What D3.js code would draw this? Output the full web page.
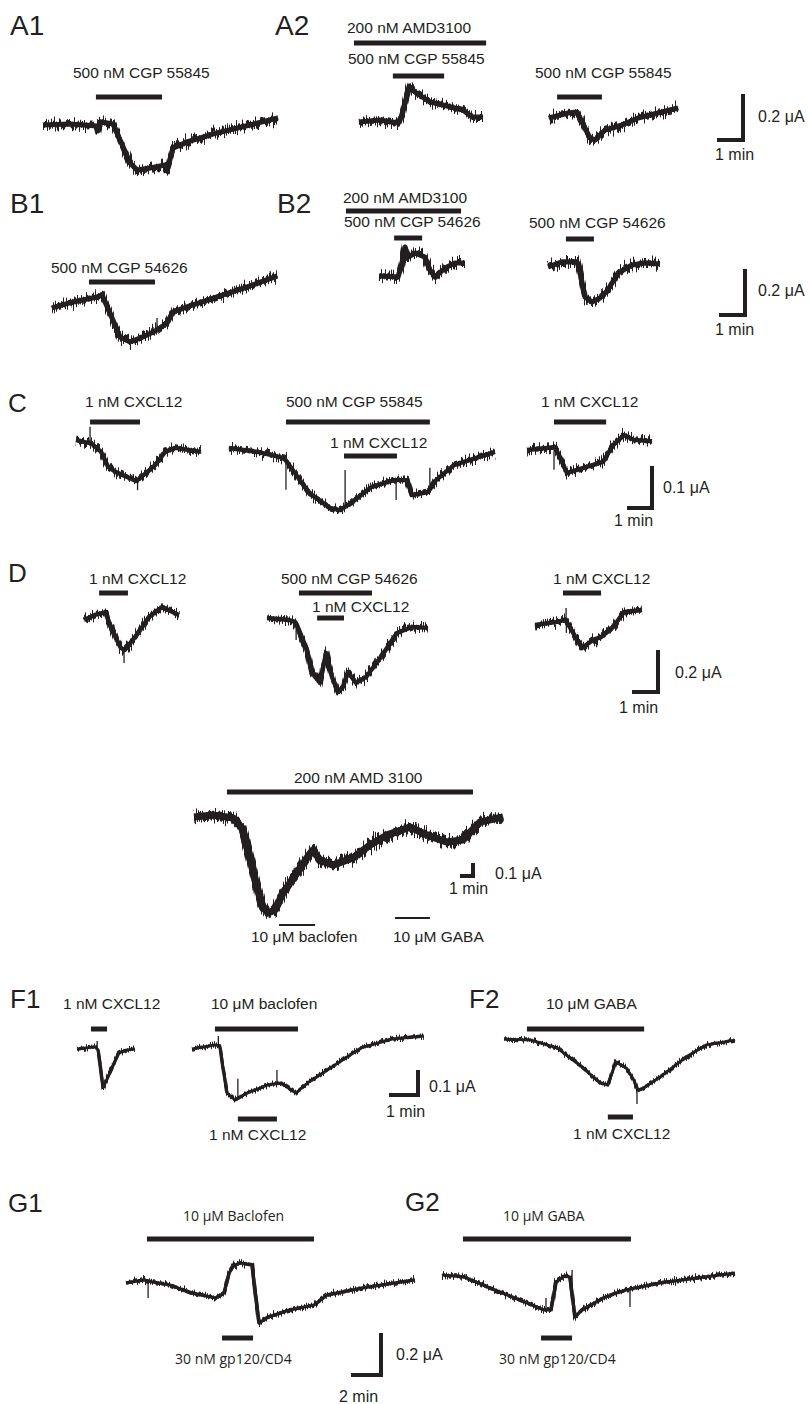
<!DOCTYPE html>
<html><head><meta charset="utf-8">
<script src="https://cdn.jsdelivr.net/npm/d3@7"></script>
<style>
html,body{margin:0;padding:0;background:#fff;}
svg{display:block;}
</style></head><body>
<svg id="fig" width="810" height="1404"></svg>
<script>
// ================= DATA (time in min, current in µA relative to trace start) =================
const A1_trace = [[0,0],[0.96,0.004],[1.93,-0.004],[1.96,-0.025],[2.04,0.013],[2.5,0.004],[3.11,-0.158],[3.36,-0.188],[3.82,-0.179],[4.36,-0.167],[4.43,-0.19],[4.64,-0.096],[5.14,-0.071],[6.21,-0.033],[7.39,0],[8.39,0.029]];
const A1_bars = [[1.89,4.25]];
const A1_labels = ["500 nM CGP 55845"];

const A2a_trace = [[0,0],[0.75,0.008],[1.39,-0.004],[1.54,0.029],[1.79,0.15],[2.0,0.125],[2.54,0.083],[3.14,0.067],[3.71,0.05],[4.04,0.021],[4.43,0.021]];
const A2a_bars = [[-0.18,4.54],[1.21,3.04]];
const A2a_labels = ["200 nM AMD3100","500 nM CGP 55845"];

const A2b_trace = [[0,0],[0.68,0.021],[1.0,0.025],[1.46,-0.083],[1.64,-0.092],[2.0,-0.05],[2.61,-0.029],[3.18,0],[3.89,0.021],[4.61,0.042]];
const A2b_bars = [[0.29,1.89]];
const A2b_labels = ["500 nM CGP 55845"];

const B1_trace = [[0,-0.008],[0.75,0.017],[1.61,0.038],[1.79,0.046],[2.07,-0.029],[2.43,-0.129],[2.79,-0.15],[3.25,-0.129],[3.75,-0.1],[4.11,-0.071],[4.32,-0.025],[4.82,-0.004],[5.89,0.038],[6.96,0.079],[8.04,0.125]];
const B1_spikes = [[3.75,-0.05]];
const B1_bars = [[1.32,3.68]];
const B1_labels = ["500 nM CGP 54626"];

const B2a_trace = [[0,0],[0.68,-0.004],[0.82,0.054],[0.93,0.121],[1.04,0.079],[1.29,0.096],[1.64,0.079],[1.82,0.025],[2.0,-0.004],[2.36,0.033],[2.71,0.054],[3.07,0.054]];
const B2a_bars = [[-1.18,2.93],[0.54,1.54]];
const B2a_labels = ["200 nM AMD3100","500 nM CGP 54626"];

const B2b_trace = [[0,-0.004],[0.5,0.017],[1.04,0.017],[1.14,-0.025],[1.32,-0.129],[1.57,-0.15],[1.86,-0.133],[2.14,-0.1],[2.5,-0.029],[3.0,0.004],[3.46,0.013],[4.0,0.008]];
const B2b_bars = [[0.64,1.64]];
const B2b_labels = ["500 nM CGP 54626"];

const C1_trace = [[0,0],[0.33,-0.005],[0.56,-0.007],[0.93,-0.027],[1.19,-0.061],[1.48,-0.073],[2.15,-0.091],[2.22,-0.093],[2.33,-0.089],[2.93,-0.057],[3.3,-0.027],[3.67,-0.018],[4.63,-0.027]];
const C1_spikes = [[0.52,0.03],[2.28,-0.114]];
const C1_bars = [[0.52,2.37]];
const C1_labels = ["1 nM CXCL12"];

const C2_trace = [[0,0],[1.07,-0.009],[2.04,-0.023],[2.15,-0.032],[2.96,-0.102],[3.74,-0.136],[4.11,-0.141],[4.52,-0.125],[5.26,-0.089],[6.11,-0.073],[6.59,-0.073],[6.78,-0.107],[7.37,-0.1],[7.67,-0.073],[8.33,-0.039],[9.85,-0.009]];
const C2_spikes = [[2.11,-0.095],[4.3,-0.05],[6.19,-0.118],[7.44,-0.045]];
const C2_bars = [[2.11,7.44],[4.26,6.22]];
const C2_labels = ["500 nM CGP 55845","1 nM CXCL12"];

const C3_trace = [[0,0],[0.81,0.005],[1.04,0.007],[1.48,-0.052],[1.85,-0.045],[2.81,-0.027],[3.19,0.011],[3.59,0.034],[3.96,0.023],[4.63,0.02]];
const C3_spikes = [[1.0,-0.045]];
const C3_bars = [[1.0,2.93]];
const C3_labels = ["1 nM CXCL12"];

const D1_trace = [[0,-0.009],[0.39,0.014],[0.79,0.027],[0.86,-0.009],[1.14,-0.091],[1.32,-0.136],[1.46,-0.145],[1.96,-0.064],[2.32,0.005],[2.79,0.05],[3.39,0.014]];
const D1_spikes = [[1.43,-0.205]];
const D1_bars = [[0.54,1.57]];
const D1_labels = ["1 nM CXCL12"];

const D2_trace = [[0,0],[0.79,-0.009],[1.0,-0.018],[1.07,-0.032],[1.43,-0.145],[1.61,-0.25],[1.89,-0.295],[2.11,-0.159],[2.32,-0.268],[2.54,-0.336],[2.71,-0.314],[2.89,-0.245],[3.18,-0.295],[3.54,-0.268],[4.07,-0.177],[4.64,-0.068],[5.18,-0.041],[5.75,-0.045]];
const D2_spikes = [[1.04,-0.1]];
const D2_bars = [[1.14,3.75],[1.79,2.75]];
const D2_labels = ["500 nM CGP 54626","1 nM CXCL12"];

const D3_trace = [[0,-0.009],[0.79,0.005],[1.07,0.014],[1.18,-0.005],[1.68,-0.114],[2.07,-0.077],[2.36,-0.064],[2.79,-0.018],[3.18,0.05],[3.82,0.059]];
const D3_spikes = [[1.11,0.068],[1.12,-0.045],[2.2,-0.11]];
const D3_bars = [[1.0,2.36]];
const D3_labels = ["1 nM CXCL12"];

const E_trace = [[0,0],[1.27,0.013],[2.6,-0.007],[3.2,-0.073],[3.6,-0.22],[4.07,-0.42],[4.53,-0.587],[4.93,-0.64],[5.4,-0.62],[5.93,-0.507],[6.87,-0.373],[7.53,-0.273],[7.93,-0.22],[8.4,-0.287],[9.27,-0.32],[10.6,-0.273],[11.73,-0.187],[12.87,-0.12],[14.4,-0.067],[15.53,-0.12],[16.87,-0.167],[17.93,-0.153],[19.07,-0.033],[20.6,0]];
const E_bars = [[2.2,18.6],[5.67,8.07],[13.4,15.73]];
const E_labels = ["200 nM AMD 3100","10 μM baclofen","10 μM GABA"];

const F1a_trace = [[0,0],[0.52,0.007],[0.61,0.007],[0.68,-0.004],[0.74,-0.052],[0.84,-0.144],[1.1,-0.078],[1.35,-0.015],[1.58,-0.004],[1.87,0]];
const F1a_spikes = [[0.65,0.03]];
const F1a_bars = [[0.45,0.97]];
const F1a_labels = ["1 nM CXCL12"];

const F1b_trace = [[0,0],[0.74,0.015],[0.9,0.011],[1.0,-0.067],[1.13,-0.163],[1.39,-0.189],[1.77,-0.163],[2.45,-0.133],[2.87,-0.126],[3.35,-0.163],[3.77,-0.122],[4.61,-0.059],[5.45,0.004],[6.45,0.037],[7.48,0.048]];
const F1b_spikes = [[0.85,0.048],[1.48,-0.11],[2.74,-0.078]];
const F1b_bars = [[0.74,3.42],[1.48,2.74]];
const F1b_labels = ["10 μM baclofen","1 nM CXCL12"];

const F2_trace = [[0,0],[0.87,-0.004],[1.71,-0.033],[2.52,-0.104],[3.1,-0.163],[3.35,-0.17],[3.61,-0.085],[3.94,-0.107],[4.19,-0.152],[4.32,-0.19],[4.45,-0.185],[5.03,-0.141],[5.87,-0.067],[6.52,-0.022],[7.45,-0.004]];
const F2_spikes = [[4.29,-0.241]];
const F2_bars = [[0.74,4.52],[3.35,4.16]];
const F2_labels = ["10 μM GABA","1 nM CXCL12"];

const G1_trace = [[0,0],[1.13,0.014],[1.63,0.005],[2.75,-0.009],[4.06,-0.045],[5.63,-0.068],[6.13,-0.045],[6.44,0.045],[6.75,0.08],[7.13,0.091],[7.88,0.082],[8.06,-0.032],[8.31,-0.182],[8.88,-0.155],[10.19,-0.123],[11.75,-0.1],[12.56,-0.055],[14.69,-0.023],[18.06,0.014]];
const G1_spikes = [[1.38,-0.068]];
const G1_bars = [[1.31,11.75],[6.0,7.94]];
const G1_labels = ["10 μM Baclofen","30 nM gp120/CD4"];

const G2_trace = [[0,0],[1.38,-0.009],[3.0,-0.059],[4.56,-0.105],[6.38,-0.159],[6.81,-0.159],[7.13,-0.032],[7.63,-0.005],[8.0,-0.009],[8.31,-0.191],[8.75,-0.159],[10.06,-0.105],[11.06,-0.077],[11.5,-0.068],[13.63,-0.036],[15.88,-0.014],[18.31,0.009]];
const G2_spikes = [[6.5,-0.105],[8.13,0.023],[11.75,-0.145]];
const G2_bars = [[1.31,11.81],[6.19,8.13]];
const G2_labels = ["10 μM GABA","30 nM gp120/CD4"];

// scale bar values: [time (min), current (µA)] and their labels
const scaleBarValues = {A:[1,0.2],B:[1,0.2],C:[1,0.1],D:[1,0.2],E:[1,0.1],F:[1,0.1],G:[2,0.2]};
const scaleBarLabels = {A:["1 min","0.2 μA"],B:["1 min","0.2 μA"],C:["1 min","0.1 μA"],D:["1 min","0.2 μA"],E:["1 min","0.1 μA"],F:["1 min","0.1 μA"],G:["2 min","0.2 μA"]};
const panelLetters = ["A1","A2","B1","B2","C","D","F1","F2","G1","G2"];

// ================= LAYOUT =================
const INK = "#231f20";
const FONT = "'Liberation Sans', Arial, Helvetica, sans-serif";
const rowScale = {
  A:{ppm:28, ppu:240}, B:{ppm:28, ppu:240}, C:{ppm:27, ppu:440}, D:{ppm:28, ppu:220},
  E:{ppm:15, ppu:150}, F:{ppm:31, ppu:270}, G:{ppm:16, ppu:220}
};
// noise band per row: stroke width and jitter amplitude
const rowBand = {A:[6,14], B:[6,14], C:[5.2,11], D:[5.2,12], E:[8.5,14], F:[3.4,6], G:[3.8,8]};
const scaleBarLayout = {
  A:{x:745,y:142, tx:715,ty:160, ix:758,iy:122},
  B:{x:747,y:317, tx:715,ty:335, ix:758,iy:296},
  C:{x:654,y:510, tx:614,ty:526, ix:663,iy:493},
  D:{x:660,y:694, tx:619,ty:713, ix:675,iy:678},
  E:{x:475,y:878, tx:449,ty:894, ix:495,iy:879},
  F:{x:420,y:1097, tx:386,ty:1117, ix:429,iy:1092},
  G:{x:383,y:1377, tx:339,ty:1402, ix:396,iy:1360}
};
const letterLayout = {
  A1:[10,35,28],A2:[275,35,28],B1:[10,213,28],B2:[277,213,28],C:[8,412,26],D:[8,582,26],
  F1:[10,1008,26],F2:[469,1008,26],G1:[8,1212,26],G2:[405,1211,26]
};
const panels = [
  {row:"A", trace:A1_trace, spikes:[], bars:A1_bars, labels:A1_labels, x0:43, y0:125,
   barY:[97], barW:[5], lab:[[73,78]]},
  {row:"A", trace:A2a_trace, spikes:[], bars:A2a_bars, labels:A2a_labels, x0:359, y0:122,
   barY:[43,76], barW:[5,5], lab:[[347,33],[348,64]]},
  {row:"A", trace:A2b_trace, spikes:[], bars:A2b_bars, labels:A2b_labels, x0:549, y0:118,
   barY:[97], barW:[5], lab:[[535,78]]},
  {row:"B", trace:B1_trace, spikes:B1_spikes, bars:B1_bars, labels:B1_labels, x0:52, y0:306,
   barY:[282], barW:[5], lab:[[51,273]]},
  {row:"B", trace:B2a_trace, spikes:[], bars:B2a_bars, labels:B2a_labels, x0:379, y0:276,
   barY:[211,238], barW:[5,5], lab:[[343,203],[344,227]]},
  {row:"B", trace:B2b_trace, spikes:[], bars:B2b_bars, labels:B2b_labels, x0:548, y0:266,
   barY:[239], barW:[5], lab:[[529,228]]},
  {row:"C", trace:C1_trace, spikes:C1_spikes, bars:C1_bars, labels:C1_labels, x0:76, y0:440,
   barY:[422], barW:[5], lab:[[85,407]]},
  {row:"C", trace:C2_trace, spikes:C2_spikes, bars:C2_bars, labels:C2_labels, x0:229, y0:448,
   barY:[422,456], barW:[5,5], lab:[[286,407],[330,448]]},
  {row:"C", trace:C3_trace, spikes:C3_spikes, bars:C3_bars, labels:C3_labels, x0:527, y0:450,
   barY:[422], barW:[5], lab:[[541,407]]},
  {row:"D", trace:D1_trace, spikes:D1_spikes, bars:D1_bars, labels:D1_labels, x0:84, y0:618,
   barY:[593], barW:[5], lab:[[89,584]]},
  {row:"D", trace:D2_trace, spikes:D2_spikes, bars:D2_bars, labels:D2_labels, x0:267, y0:618,
   barY:[593,618], barW:[5,5], lab:[[281,584],[312,612]]},
  {row:"D", trace:D3_trace, spikes:D3_spikes, bars:D3_bars, labels:D3_labels, x0:535, y0:623,
   barY:[593], barW:[5], lab:[[553,584]]},
  {row:"E", trace:E_trace, spikes:[], bars:E_bars, labels:E_labels, x0:194, y0:817,
   barY:[792,925,918], barW:[5,2,2], lab:[[294,783],[251,942],[393,942]]},
  {row:"F", trace:F1a_trace, spikes:F1a_spikes, bars:F1a_bars, labels:F1a_labels, x0:77, y0:1049,
   barY:[1029], barW:[5], lab:[[63,1009]]},
  {row:"F", trace:F1b_trace, spikes:F1b_spikes, bars:F1b_bars, labels:F1b_labels, x0:192, y0:1049,
   barY:[1029,1119], barW:[5,5], lab:[[211,1009],[209,1140]]},
  {row:"F", trace:F2_trace, spikes:F2_spikes, bars:F2_bars, labels:F2_labels, x0:504, y0:1039,
   barY:[1029,1117], barW:[5,5], lab:[[546,1009],[573,1139]]},
  {row:"G", trace:G1_trace, spikes:G1_spikes, bars:G1_bars, labels:G1_labels, x0:126, y0:1283,
   barY:[1239,1338], barW:[5,5], lab:[[183,1221],[175,1364]], font:"'Open Sans', sans-serif", fs:14},
  {row:"G", trace:G2_trace, spikes:G2_spikes, bars:G2_bars, labels:G2_labels, x0:442, y0:1275,
   barY:[1239,1338], barW:[5,5], lab:[[503,1221],[499,1364]], font:"'Open Sans', sans-serif", fs:14}
];

// ================= RENDER =================
const svg = d3.select("#fig");
svg.append("rect").attr("width",810).attr("height",1404).attr("fill","#fff");
const defs = svg.append("defs");
const fuzzIds = {};
function fuzz(scale){
  if (fuzzIds[scale]) return fuzzIds[scale];
  const id = "fuzz" + String(scale).replace(".","_");
  const f = defs.append("filter").attr("id",id).attr("filterUnits","userSpaceOnUse")
    .attr("x",0).attr("y",0).attr("width",810).attr("height",1404)
    .attr("color-interpolation-filters","sRGB");
  f.append("feTurbulence").attr("type","fractalNoise").attr("baseFrequency","1.1 0.01")
    .attr("numOctaves",1).attr("seed",4).attr("result","n");
  f.append("feColorMatrix").attr("in","n").attr("type","matrix")
    .attr("values","0 0 0 0 0.5  0 1.6 0 0 -0.3  0 0 0 0 0  0 0 0 0 1").attr("result","m");
  f.append("feDisplacementMap").attr("in","SourceGraphic").attr("in2","m")
    .attr("scale",scale).attr("xChannelSelector","R").attr("yChannelSelector","G");
  fuzzIds[scale] = id;
  return id;
}

function valueAt(trace, t){
  for (let i=0;i<trace.length-1;i++){
    const a=trace[i], b=trace[i+1];
    if (t>=a[0] && t<=b[0]){ const k=(t-a[0])/(b[0]-a[0]||1); return a[1]+k*(b[1]-a[1]); }
  }
  return trace[trace.length-1][1];
}

panels.forEach(p=>{
  const s = rowScale[p.row], band = rowBand[p.row];
  const x = d3.scaleLinear().domain([0,1]).range([p.x0, p.x0 + s.ppm]);
  const y = d3.scaleLinear().domain([0,1]).range([p.y0, p.y0 - s.ppu]);
  const g = svg.append("g");
  const line = d3.line().x(d=>x(d[0])).y(d=>y(d[1]));
  // noisy band: jittered outer stroke + solid core
  g.append("path").attr("d",line(p.trace)).attr("fill","none").attr("stroke",INK)
    .attr("stroke-width",band[0]).attr("stroke-linejoin","round").attr("stroke-linecap","butt")
    .attr("filter",`url(#${fuzz(band[1])})`);
  g.append("path").attr("d",line(p.trace)).attr("fill","none").attr("stroke",INK)
    .attr("stroke-width",band[0]*0.85).attr("stroke-linejoin","round");
  // spikes
  g.selectAll("line.spike").data(p.spikes).join("line").attr("class","spike")
    .attr("x1",d=>x(d[0])).attr("x2",d=>x(d[0]))
    .attr("y1",d=>y(valueAt(p.trace,d[0]))).attr("y2",d=>y(d[1]))
    .attr("stroke",INK).attr("stroke-width",1.3);
  // application bars + labels
  p.bars.forEach((b,i)=>{
    g.append("line").attr("x1",x(b[0])).attr("x2",x(b[1])).attr("y1",p.barY[i]).attr("y2",p.barY[i])
      .attr("stroke",INK).attr("stroke-width",p.barW[i]);
    g.append("text").attr("x",p.lab[i][0]).attr("y",p.lab[i][1]).text(p.labels[i])
      .attr("font-family",p.font||FONT).attr("font-size",p.fs||15.5).attr("fill",INK);
  });
});

// scale bars
Object.keys(scaleBarValues).forEach(r=>{
  const s = rowScale[r], L = scaleBarLayout[r], v = scaleBarValues[r];
  const xs = d3.scaleLinear().domain([0,1]).range([0,s.ppm]);
  const ys = d3.scaleLinear().domain([0,1]).range([0,s.ppu]);
  const w = xs(v[0]), h = ys(v[1]);
  svg.append("path").attr("d",`M${L.x-2},${L.y-h}V${L.y-2}H${L.x-w}`).attr("fill","none")
    .attr("stroke",INK).attr("stroke-width",4).attr("stroke-linejoin","miter").attr("stroke-linecap","butt");
  svg.append("text").attr("x",L.tx).attr("y",L.ty).text(scaleBarLabels[r][0])
    .attr("font-family",FONT).attr("font-size",16).attr("fill",INK);
  svg.append("text").attr("x",L.ix).attr("y",L.iy).text(scaleBarLabels[r][1])
    .attr("font-family",FONT).attr("font-size",16).attr("fill",INK);
});

// panel letters
panelLetters.forEach(k=>{
  const L = letterLayout[k];
  svg.append("text").attr("x",L[0]).attr("y",L[1]).text(k)
    .attr("font-family",FONT).attr("font-size",L[2]).attr("fill",INK);
});
</script>
</body></html>
